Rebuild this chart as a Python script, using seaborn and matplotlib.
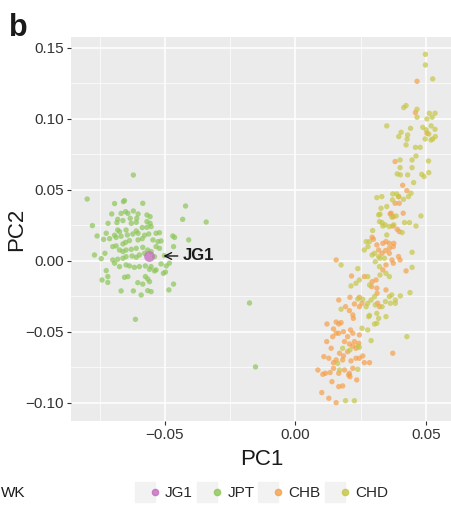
import matplotlib
matplotlib.use("Agg")
import matplotlib.pyplot as plt
from matplotlib.lines import Line2D
from matplotlib.legend_handler import HandlerTuple
from matplotlib.ticker import MultipleLocator
import seaborn as sns
import pandas as pd

# PCA coordinates
jg1_pc1 = [-0.0562]
jg1_pc2 = [0.0035]

jpt_pc1 = [-0.0621, -0.0798, -0.0693, -0.0659, -0.0655, -0.0585, -0.0421, -0.0432, -0.0342, -0.0778,
           -0.0704, -0.0668, -0.0651, -0.0642, -0.0621, -0.0603, -0.0681, -0.0633, -0.0608, -0.0569,
           -0.0557, -0.0718, -0.0684, -0.0661, -0.0629, -0.0610, -0.0569, -0.0557, -0.0760, -0.0725,
           -0.0693, -0.0681, -0.0674, -0.0649, -0.0610, -0.0587, -0.0569, -0.0553, -0.0735, -0.0712,
           -0.0687, -0.0668, -0.0644, -0.0623, -0.0603, -0.0578, -0.0562, -0.0534, -0.0521, -0.0470,
           -0.0463, -0.0409, -0.0770, -0.0744, -0.0730, -0.0700, -0.0687, -0.0661, -0.0651, -0.0636,
           -0.0603, -0.0587, -0.0546, -0.0527, -0.0515, -0.0674, -0.0661, -0.0649, -0.0629, -0.0610,
           -0.0585, -0.0566, -0.0553, -0.0534, -0.0521, -0.0700, -0.0681, -0.0661, -0.0649, -0.0626,
           -0.0610, -0.0598, -0.0578, -0.0540, -0.0502, -0.0467, -0.0693, -0.0674, -0.0649, -0.0636,
           -0.0617, -0.0598, -0.0575, -0.0553, -0.0534, -0.0515, -0.0495, -0.0483, -0.0498, -0.0506,
           -0.0540, -0.0559, -0.0725, -0.0719, -0.0741, -0.0719, -0.0655, -0.0642, -0.0604, -0.0585,
           -0.0575, -0.0566, -0.0559, -0.0668, -0.0621, -0.0591, -0.0566, -0.0553, -0.0485, -0.0467,
           -0.0613, -0.0176, -0.0153]
jpt_pc2 = [0.0605, 0.0436, 0.0404, 0.0418, 0.0425, 0.0406, 0.0387, 0.0293, 0.0274, 0.0249,
           0.0331, 0.0335, 0.0347, 0.0335, 0.0352, 0.0331, 0.0293, 0.0300, 0.0300, 0.0324,
           0.0312, 0.0265, 0.0270, 0.0284, 0.0265, 0.0272, 0.0277, 0.0265, 0.0176, 0.0195,
           0.0181, 0.0218, 0.0206, 0.0218, 0.0211, 0.0235, 0.0237, 0.0242, 0.0152, 0.0157,
           0.0166, 0.0174, 0.0183, 0.0190, 0.0195, 0.0181, 0.0190, 0.0195, 0.0199, 0.0176,
           0.0166, 0.0148, 0.0042, 0.0016, 0.0054, 0.0101, 0.0106, 0.0120, 0.0131, 0.0143,
           0.0148, 0.0157, 0.0148, 0.0136, 0.0141, 0.0077, 0.0066, 0.0077, 0.0082, 0.0089,
           0.0096, 0.0077, 0.0066, 0.0101, 0.0089, 0.0007, 0.0012, 0.0019, 0.0030, 0.0035,
           0.0026, 0.0042, 0.0054, 0.0030, 0.0037, 0.0101, -0.0016, -0.0040, -0.0028, -0.0035,
           -0.0045, -0.0040, -0.0035, -0.0040, -0.0063, -0.0021, -0.0035, -0.0016, -0.0078, -0.0087,
           -0.0070, -0.0059, -0.0068, -0.0110, -0.0134, -0.0151, -0.0115, -0.0110, -0.0153, -0.0163,
           -0.0110, -0.0127, -0.0146, -0.0211, -0.0211, -0.0240, -0.0209, -0.0216, -0.0204, -0.0163,
           -0.0411, -0.0296, -0.0746]

chb_pc1 = [0.0466, 0.0460, 0.0504, 0.0382, 0.0411, 0.0427, 0.0396, 0.0398, 0.0382, 0.0363,
           0.0375, 0.0367, 0.0413, 0.0373, 0.0390, 0.0398, 0.0294, 0.0299, 0.0312, 0.0319,
           0.0335, 0.0347, 0.0360, 0.0377, 0.0360, 0.0375, 0.0345, 0.0332, 0.0360, 0.0370,
           0.0395, 0.0401, 0.0347, 0.0375, 0.0424, 0.0156, 0.0215, 0.0264, 0.0294, 0.0309,
           0.0292, 0.0312, 0.0335, 0.0313, 0.0347, 0.0209, 0.0245, 0.0255, 0.0226, 0.0245,
           0.0166, 0.0192, 0.0207, 0.0220, 0.0222, 0.0315, 0.0322, 0.0121, 0.0156, 0.0166,
           0.0175, 0.0146, 0.0156, 0.0143, 0.0166, 0.0184, 0.0200, 0.0220, 0.0245, 0.0211,
           0.0188, 0.0207, 0.0226, 0.0243, 0.0120, 0.0220, 0.0232, 0.0137, 0.0169, 0.0184,
           0.0200, 0.0258, 0.0109, 0.0128, 0.0146, 0.0156, 0.0181, 0.0213, 0.0232, 0.0245,
           0.0264, 0.0284, 0.0188, 0.0220, 0.0207, 0.0086, 0.0105, 0.0115, 0.0133, 0.0146,
           0.0166, 0.0204, 0.0209, 0.0235, 0.0140, 0.0373, 0.0166, 0.0181, 0.0101, 0.0128,
           0.0156]
chb_pc2 = [0.1265, 0.1045, 0.0899, 0.0700, 0.0533, 0.0495, 0.0453, 0.0406, 0.0406, 0.0331,
           0.0312, 0.0336, 0.0336, 0.0246, 0.0223, 0.0207, 0.0167, 0.0153, 0.0113, 0.0077,
           0.0124, 0.0136, 0.0124, 0.0124, 0.0089, 0.0101, 0.0073, 0.0054, 0.0054, 0.0007,
           0.0031, 0.0007, -0.0028, -0.0016, -0.0070, 0.0007, -0.0106, -0.0110, -0.0146, -0.0134,
           -0.0181, -0.0192, -0.0063, -0.0228, -0.0204, -0.0256, -0.0256, -0.0298, -0.0303, -0.0322,
           -0.0275, -0.0322, -0.0350, -0.0380, -0.0404, -0.0298, -0.0322, -0.0444, -0.0430, -0.0444,
           -0.0434, -0.0479, -0.0509, -0.0533, -0.0509, -0.0498, -0.0533, -0.0509, -0.0521, -0.0486,
           -0.0568, -0.0585, -0.0568, -0.0580, -0.0568, -0.0599, -0.0615, -0.0615, -0.0650, -0.0669,
           -0.0639, -0.0669, -0.0674, -0.0685, -0.0716, -0.0697, -0.0697, -0.0704, -0.0685, -0.0685,
           -0.0716, -0.0716, -0.0768, -0.0756, -0.0791, -0.0768, -0.0798, -0.0791, -0.0786, -0.0756,
           -0.0791, -0.0803, -0.0815, -0.0838, -0.0850, -0.0650, -0.0885, -0.0880, -0.0927, -0.0967,
           -0.0998]

chd_pc1 = [0.0498, 0.0498, 0.0526, 0.0424, 0.0415, 0.0466, 0.0466, 0.0513, 0.0535, 0.0524,
           0.0504, 0.0350, 0.0441, 0.0488, 0.0520, 0.0535, 0.0501, 0.0511, 0.0497, 0.0536,
           0.0520, 0.0526, 0.0405, 0.0396, 0.0430, 0.0428, 0.0424, 0.0460, 0.0478, 0.0462,
           0.0447, 0.0510, 0.0401, 0.0401, 0.0447, 0.0390, 0.0402, 0.0430, 0.0484, 0.0493,
           0.0511, 0.0453, 0.0443, 0.0433, 0.0373, 0.0388, 0.0395, 0.0414, 0.0312, 0.0331,
           0.0372, 0.0350, 0.0328, 0.0324, 0.0319, 0.0322, 0.0332, 0.0370, 0.0386, 0.0418,
           0.0437, 0.0462, 0.0481, 0.0377, 0.0409, 0.0360, 0.0344, 0.0335, 0.0350, 0.0296,
           0.0284, 0.0271, 0.0264, 0.0278, 0.0303, 0.0294, 0.0319, 0.0324, 0.0341, 0.0447,
           0.0306, 0.0322, 0.0447, 0.0239, 0.0175, 0.0245, 0.0232, 0.0277, 0.0284, 0.0347,
           0.0360, 0.0324, 0.0213, 0.0303, 0.0360, 0.0369, 0.0383, 0.0402, 0.0439, 0.0239,
           0.0258, 0.0277, 0.0271, 0.0175, 0.0290, 0.0306, 0.0332, 0.0345, 0.0364, 0.0383,
           0.0284, 0.0312, 0.0281, 0.0319, 0.0347, 0.0312, 0.0303, 0.0255, 0.0277, 0.0427,
           0.0290, 0.0239, 0.0181, 0.0209, 0.0245, 0.0162, 0.0169, 0.0239, 0.0192, 0.0226]
chd_pc2 = [0.1455, 0.1380, 0.1282, 0.1094, 0.1080, 0.1068, 0.1012, 0.1040, 0.1040, 0.1012,
           0.1000, 0.0951, 0.0934, 0.0941, 0.0951, 0.0927, 0.0923, 0.0894, 0.0859, 0.0876,
           0.0852, 0.0859, 0.0906, 0.0876, 0.0887, 0.0857, 0.0817, 0.0800, 0.0800, 0.0739,
           0.0711, 0.0704, 0.0711, 0.0657, 0.0657, 0.0613, 0.0606, 0.0606, 0.0610, 0.0594,
           0.0622, 0.0552, 0.0477, 0.0453, 0.0472, 0.0472, 0.0453, 0.0434, 0.0446, 0.0453,
           0.0430, 0.0383, 0.0371, 0.0329, 0.0324, 0.0277, 0.0270, 0.0308, 0.0317, 0.0270,
           0.0270, 0.0246, 0.0317, 0.0254, 0.0200, 0.0242, 0.0254, 0.0246, 0.0183, 0.0214,
           0.0136, 0.0136, 0.0077, 0.0101, 0.0054, 0.0042, 0.0031, 0.0019, 0.0019, 0.0061,
           -0.0005, -0.0040, -0.0045, -0.0054, -0.0028, -0.0134, -0.0157, -0.0110, -0.0169, -0.0087,
           -0.0110, -0.0099, -0.0176, -0.0251, -0.0251, -0.0239, -0.0275, -0.0246, -0.0223, -0.0268,
           -0.0270, -0.0298, -0.0322, -0.0340, -0.0275, -0.0310, -0.0322, -0.0286, -0.0298, -0.0298,
           -0.0383, -0.0369, -0.0392, -0.0404, -0.0392, -0.0439, -0.0444, -0.0474, -0.0486, -0.0533,
           -0.0561, -0.0599, -0.0615, -0.0627, -0.0608, -0.0721, -0.0768, -0.0763, -0.0984, -0.0984]

groups = ["JG1", "JPT", "CHB", "CHD"]
colors = ["#C46BBE", "#8CC657", "#F5A04A", "#C6C646"]

df = pd.concat([
    pd.DataFrame({"PC1": jpt_pc1, "PC2": jpt_pc2, "pop": "JPT"}),
    pd.DataFrame({"PC1": chb_pc1, "PC2": chb_pc2, "pop": "CHB"}),
    pd.DataFrame({"PC1": chd_pc1, "PC2": chd_pc2, "pop": "CHD"}),
])
jg1 = pd.DataFrame({"PC1": jg1_pc1, "PC2": jg1_pc2, "pop": "JG1"})
palette = dict(zip(groups, colors))

sns.set_theme(style="darkgrid", rc={
    "axes.facecolor": "#EBEBEB",
    "grid.color": "white",
    "axes.edgecolor": "none",
})
plt.rcParams["font.family"] = ["Liberation Sans", "DejaVu Sans"]

fig = plt.figure(figsize=(4.52, 5.05), dpi=100)
ax = fig.add_axes([71 / 452, 84 / 505, 381 / 452, 384 / 505])

sns.scatterplot(data=df, x="PC1", y="PC2", hue="pop", palette=palette,
                s=15, alpha=0.7, linewidth=0, legend=False, ax=ax)
sns.scatterplot(data=jg1, x="PC1", y="PC2", hue="pop", palette=palette,
                s=60, alpha=0.75, linewidth=0, legend=False, ax=ax)

ax.annotate("JG1", xy=(-0.0506, 0.0035), xytext=(-0.0433, 0.0035),
            ha="left", va="center", fontsize=12, fontweight="bold", color="#1a1a1a",
            arrowprops=dict(arrowstyle="->", color="#1a1a1a", lw=1.0,
                            shrinkA=1, shrinkB=0))

ax.set_xlim(-0.086, 0.060)
ax.set_ylim(-0.1127, 0.1577)
ax.set_xticks([-0.05, 0.0, 0.05])
ax.set_xticklabels(["\u22120.05", "0.00", "0.05"])
ax.set_yticks([-0.10, -0.05, 0.0, 0.05, 0.10, 0.15])
ax.set_yticklabels(["\u22120.10", "\u22120.05", "0.00", "0.05", "0.10", "0.15"])
ax.xaxis.set_minor_locator(MultipleLocator(0.025))
ax.yaxis.set_minor_locator(MultipleLocator(0.025))
ax.grid(which="major", color="white", lw=1.1)
ax.grid(which="minor", color="white", lw=0.5)
ax.tick_params(which="major", length=3, width=0.8, color="#333333",
               labelsize=11, labelcolor="#333333", pad=2, left=True, bottom=True)
ax.tick_params(which="minor", length=0)
ax.set_xlabel("PC1", fontsize=16, color="#1a1a1a")
ax.set_ylabel("PC2", fontsize=16, color="#1a1a1a")
ax.xaxis.set_label_coords(0.5, -0.072)
ax.yaxis.set_label_coords(-0.116, 0.5)

fig.text(9 / 452, 1 - 36 / 505, "b", fontsize=22, fontweight="bold", color="#1a1a1a")
fig.text(1 / 452, 12 / 505, "WK", fontsize=11, color="#1a1a1a", va="center")

# legend: grey key box with a dot, as in ggplot
handles = []
for c in colors:
    box = Line2D([], [], marker="s", markersize=15, color="#F2F2F2", lw=0)
    dot = Line2D([], [], marker="o", markersize=4.5, color=c, alpha=0.8, lw=0)
    handles.append((box, dot))
fig.legend(handles, groups, handler_map={tuple: HandlerTuple(ndivide=None)},
           loc="center", bbox_to_anchor=(264 / 452, 12 / 505), ncol=4, frameon=False,
           fontsize=11, handlelength=1.3, handletextpad=0.35, columnspacing=0.6,
           borderaxespad=0, borderpad=0)

fig.savefig("out.png", dpi=100)
